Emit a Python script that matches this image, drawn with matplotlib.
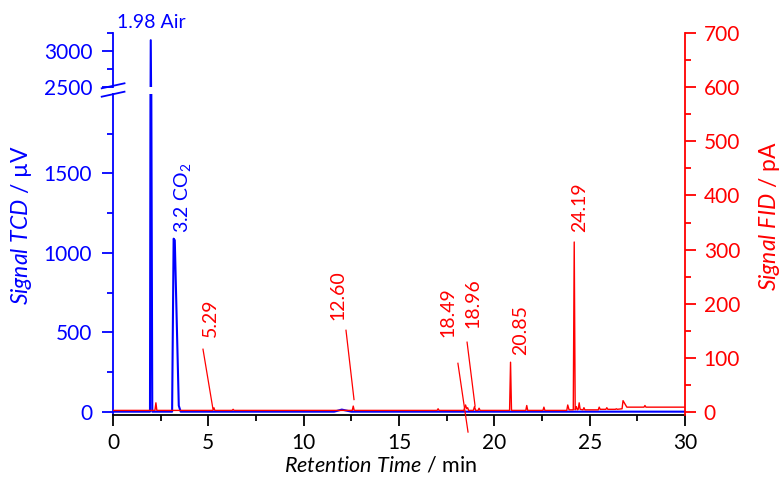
import matplotlib
matplotlib.use("Agg")
import matplotlib.pyplot as plt
from matplotlib.lines import Line2D
from matplotlib.ticker import MultipleLocator, FixedLocator

plt.rcParams["font.family"] = ["Lato", "DejaVu Sans"]
plt.rcParams["mathtext.fontset"] = "custom"
plt.rcParams["mathtext.rm"] = "Lato"
plt.rcParams["mathtext.it"] = "Lato:italic"
plt.rcParams["mathtext.bf"] = "Lato:bold"

# ---- chromatogram data (retention time in min) ----
# TCD trace, signal in µV
tcd_time = [0.0, 1.94, 1.98, 2.06, 3.10, 3.18, 3.24, 3.45, 3.55,
            11.6, 12.0, 12.5, 30.0]
tcd_signal = [2, 2, 3150, 2, 2, 1090, 1080, 40, 2,
              2, 15, 2, 2]

# FID trace, signal in pA
fid_time = [0.0, 2.20, 2.25, 2.30, 5.24, 5.29, 5.34, 6.25, 6.30, 6.35,
            12.55, 12.60, 12.65, 17.00, 17.05, 17.10,
            18.40, 18.49, 18.55, 18.60, 18.65, 18.90, 18.96, 19.02,
            19.15, 19.20, 19.25, 20.80, 20.85, 20.90,
            21.65, 21.70, 21.75, 22.55, 22.60, 22.65,
            23.80, 23.85, 23.92, 24.14, 24.19, 24.24,
            24.30, 24.35, 24.40, 24.45, 24.50, 24.65, 24.70, 24.75,
            25.45, 25.50, 25.55, 25.85, 25.90, 25.95, 26.35, 26.40, 26.45,
            26.70, 26.75, 26.85, 26.95, 27.85, 27.90, 27.95, 30.0]
fid_signal = [3, 3, 17, 3, 3, 8, 3, 3, 5, 3,
              3, 11, 3, 3, 6, 3,
              3, 13, 6, 8, 3, 3, 10, 3,
              3, 7, 3, 3, 92, 3,
              3, 12, 3, 3, 9, 3,
              3, 13, 4, 4, 314, 4,
              10, 4, 5, 17, 5, 4, 8, 4,
              4, 9, 5, 5, 8, 5, 5, 6, 5,
              6, 21, 15, 9, 9, 12, 9, 9]

# peak labels
fid_labels = ["5.29", "12.60", "18.49", "18.96", "20.85", "24.19"]
tcd_labels = ["1.98 Air", "3.2 CO$_2$"]

# label layout: text anchor (x, y) and optional leader line (x0, y0, x1, y1)
fid_label_pos = [(5.09, 138), (11.80, 170), (17.57, 138), (18.88, 155),
                 (21.40, 105), (24.49, 332)]
fid_leaders = [(4.72, 116, 5.24, 6), (12.22, 151, 12.64, 23),
               (18.09, 90, 18.62, -37), (18.57, 129, 18.99, 11),
               None, None]

W, H = 782, 490
fig = plt.figure(figsize=(W / 100, H / 100), dpi=100)


def box(l, t, r, b):
    return [l / W, 1 - b / H, (r - l) / W, (b - t) / H]


ax_lo = fig.add_axes(box(113, 94, 685, 415))
ax_hi = fig.add_axes(box(113, 33, 685, 87))
ax_fid = fig.add_axes(box(113, 33, 685, 415))
ax_fid.patch.set_visible(False)

BLUE = "#0000ff"
RED = "#ff0000"
FS_TICK = 15
FS_ANN = 14
FS_LABEL = 16.5

for ax in (ax_lo, ax_hi):
    ax.plot(tcd_time, tcd_signal, color=BLUE, lw=1.5)
    ax.set_xlim(0, 30)
    ax.spines["top"].set_visible(False)
    ax.spines["right"].set_visible(False)
    ax.spines["left"].set_color(BLUE)
    ax.spines["left"].set_linewidth(1.3)
    ax.tick_params(axis="y", which="major", length=8, width=1.3, pad=7,
                   colors=BLUE, labelsize=FS_TICK)
    ax.tick_params(axis="y", which="minor", length=4.5, width=1.3, colors=BLUE)

ax_lo.set_ylim(-19, 2000)
ax_lo.yaxis.set_major_locator(FixedLocator([0, 500, 1000, 1500]))
ax_lo.yaxis.set_minor_locator(FixedLocator([250, 750, 1250, 1750]))
ax_lo.spines["bottom"].set_linewidth(1.3)
ax_lo.xaxis.set_major_locator(MultipleLocator(5))
ax_lo.xaxis.set_minor_locator(MultipleLocator(2.5))
ax_lo.tick_params(axis="x", which="major", length=8, width=1.3, pad=5,
                  labelsize=FS_TICK)
ax_lo.tick_params(axis="x", which="minor", length=4.5, width=1.3)

ax_hi.set_ylim(2500, 3250)
ax_hi.yaxis.set_major_locator(FixedLocator([2500, 3000]))
ax_hi.yaxis.set_minor_locator(FixedLocator([2750, 3250]))
ax_hi.spines["bottom"].set_visible(False)
ax_hi.tick_params(axis="x", which="both", bottom=False, labelbottom=False)

# FID axis on the right
ax_fid.plot(fid_time, fid_signal, color=RED, lw=1.0)
ax_fid.set_xlim(0, 30)
ax_fid.set_ylim(-5.5, 700)
for s in ("left", "top", "bottom"):
    ax_fid.spines[s].set_visible(False)
ax_fid.spines["right"].set_color(RED)
ax_fid.spines["right"].set_linewidth(1.3)
ax_fid.yaxis.tick_right()
ax_fid.yaxis.set_major_locator(MultipleLocator(100))
ax_fid.yaxis.set_minor_locator(MultipleLocator(50))
ax_fid.tick_params(axis="y", which="major", length=8, width=1.3, pad=5.5,
                   colors=RED, labelsize=FS_TICK)
ax_fid.tick_params(axis="y", which="minor", length=4.5, width=1.3, colors=RED)
ax_fid.tick_params(axis="x", which="both", bottom=False, labelbottom=False)

# axis break marks
for y0, y1 in ((88.3, 83.3), (96.7, 91.7)):
    fig.add_artist(Line2D([101.7 / W, 124.5 / W], [1 - y0 / H, 1 - y1 / H],
                          color=BLUE, lw=1.3))

# peak annotations
for text, (tx, ty), lead in zip(fid_labels, fid_label_pos, fid_leaders):
    ax_fid.text(tx, ty, text, rotation=90, ha="center", va="bottom",
                color=RED, fontsize=FS_ANN, clip_on=False)
    if lead is not None:
        ax_fid.plot([lead[0], lead[2]], [lead[1], lead[3]], color=RED,
                    lw=0.9, clip_on=False)

ax_hi.text(2.03, 3319, tcd_labels[0], ha="center", va="baseline",
           color=BLUE, fontsize=FS_ANN, clip_on=False)
ax_lo.text(3.62, 1126, tcd_labels[1], rotation=90, ha="center", va="bottom",
           color=BLUE, fontsize=FS_ANN, clip_on=False)

# axis titles
fig.text(22 / W, 1 - 225 / H, r"$\mathit{Signal\ TCD}$ / µV", rotation=90,
         ha="center", va="center", color=BLUE, fontsize=FS_LABEL)
fig.text(770 / W, 1 - 216 / H, r"$\mathit{Signal\ FID}$ / pA", rotation=90,
         ha="center", va="center", color=RED, fontsize=FS_LABEL)
fig.text(380 / W, 1 - 465 / H, r"$\mathit{Retention\ Time}$ / min",
         ha="center", va="center", color="black", fontsize=15.5)

fig.savefig("out.png", dpi=100)
